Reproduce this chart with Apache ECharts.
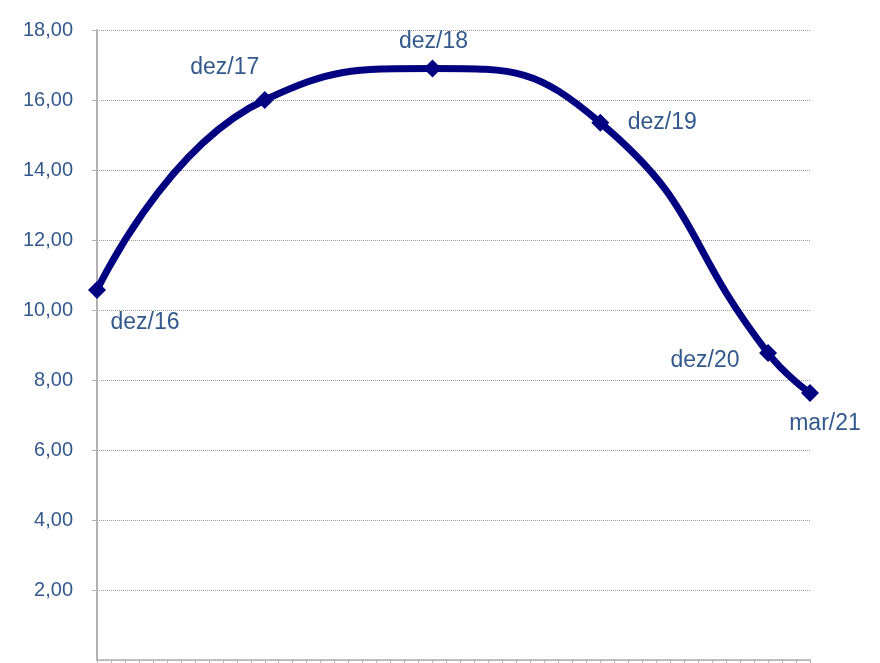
<!DOCTYPE html>
<html>
<head>
<meta charset="utf-8">
<style>
  html, body { margin: 0; padding: 0; background: #fff; }
  #chart { width: 880px; height: 663px; }
</style>
<script src="https://cdn.jsdelivr.net/npm/echarts@6/dist/echarts.min.js"></script>
</head>
<body>
<div id="chart"></div>
<script>
// pontos da série (mês contado a partir de dez/16)
var labels = ['dez/16', 'dez/17', 'dez/18', 'dez/19', 'dez/20', 'mar/21']
var months = [0, 12, 24, 36, 48, 51]
var values = [10.57, 16.0, 16.9, 15.35, 8.77, 7.63]
// deslocamento dos rótulos em relação ao ponto
var labelOffsets = [[48, 33], [-40, -32], [1, -27], [62, 0], [-63, 8], [15, 31]]

var textColor = '#33598c'

var seriesData = months.map(function (m, i) {
  return {
    value: [m, values[i]],
    name: labels[i],
    label: { offset: labelOffsets[i] }
  }
})

var myChart = echarts.init(document.getElementById('chart'))
myChart.setOption({
  animation: false,
  grid: { left: 97, right: 70, top: 30, bottom: 3, outerBoundsMode: 'none' },
  xAxis: {
    type: 'value',
    min: 0,
    max: 51,
    interval: 1,
    axisLine: { show: true, onZero: false, lineStyle: { color: '#b0b0b0', width: 1.5 } },
    axisTick: { show: true, length: 5, lineStyle: { color: '#b0b0b0' } },
    axisLabel: { show: false },
    splitLine: { show: false }
  },
  yAxis: {
    type: 'value',
    min: 0,
    max: 18,
    interval: 2,
    axisLine: { show: true, lineStyle: { color: '#b0b0b0', width: 2 } },
    axisTick: { show: true, length: 5, lineStyle: { color: '#b0b0b0' } },
    axisLabel: {
      margin: 24,
      color: textColor,
      fontSize: 20,
      fontFamily: 'Liberation Sans',
      showMinLabel: false,
      formatter: function (v) { return v.toFixed(2).replace('.', ',') }
    },
    splitLine: { show: true, lineStyle: { color: '#999999', type: 'dotted', width: 1 } }
  },
  series: [{
    type: 'line',
    smooth: 0.5,
    data: seriesData,
    symbol: 'diamond',
    symbolSize: 18,
    itemStyle: { color: '#000080' },
    lineStyle: { color: '#000080', width: 7 },
    label: {
      show: true,
      position: 'inside',
      formatter: '{b}',
      color: textColor,
      fontSize: 23,
      fontFamily: 'Liberation Sans'
    }
  }]
})
</script>
</body>
</html>
